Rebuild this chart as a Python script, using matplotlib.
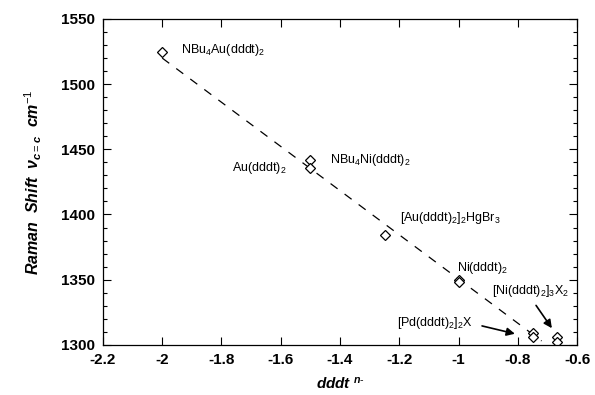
import matplotlib
matplotlib.use("Agg")
import matplotlib.pyplot as plt
from matplotlib.ticker import MultipleLocator

plt.rcParams['font.family'] = ['Liberation Sans', 'DejaVu Sans']
plt.rcParams['mathtext.fontset'] = 'custom'
plt.rcParams['mathtext.rm'] = 'Liberation Sans'
plt.rcParams['mathtext.it'] = 'Liberation Sans:italic:bold'
plt.rcParams['mathtext.bf'] = 'Liberation Sans:bold'

# data
charge = [-2.0, -1.5, -1.5, -1.25, -1.0, -1.0, -0.75, -0.75, -0.667, -0.667]
shift = [1525, 1442, 1436, 1384, 1350, 1348, 1309, 1306, 1306, 1302]

fit_x = [-2.0, -0.72]
fit_y = [1520, 1303]

labels = [r'NBu$_4$Au(dddt)$_2$', r'Au(dddt)$_2$', r'NBu$_4$Ni(dddt)$_2$',
          r'[Au(dddt)$_2$]$_2$HgBr$_3$', r'Ni(dddt)$_2$',
          r'[Ni(dddt)$_2$]$_3$X$_2$', r'[Pd(dddt)$_2$]$_2$X']
label_x = [-1.936, -1.764, -1.433, -1.197, -1.004, -0.886, -1.207]
label_y = [1526, 1436, 1442, 1397, 1359, 1341, 1317]

fig = plt.figure(figsize=(5.95, 3.95), dpi=100)
ax = fig.add_axes([0.173, 0.127, 0.797, 0.825])

ax.plot(fit_x, fit_y, linestyle=(0, (7, 7)), color='black', lw=0.9)
ax.plot(charge, shift, linestyle='none', marker='D', markersize=5.5,
        markerfacecolor='white', markeredgecolor='black', markeredgewidth=0.9)

for i in range(len(labels)):
    ax.text(label_x[i], label_y[i], labels[i], fontsize=9, va='center', ha='left')

# arrows for the two crowded points
ax.annotate('', xy=(-0.801, 1308), xytext=(-0.93, 1315),
            arrowprops=dict(arrowstyle='-|>', color='black', lw=1.2, mutation_scale=12))
ax.annotate('', xy=(-0.680, 1311), xytext=(-0.744, 1332),
            arrowprops=dict(arrowstyle='-|>', color='black', lw=1.2, mutation_scale=12))

ax.set_xlim(-2.2, -0.6)
ax.set_ylim(1300, 1550)
ax.yaxis.set_major_locator(MultipleLocator(50))
ax.yaxis.set_minor_locator(MultipleLocator(10))
ax.tick_params(which='both', direction='in', top=True, right=True, width=0.8)
ax.tick_params(which='major', length=6, labelsize=11, pad=6)
ax.tick_params(which='minor', length=3)
ax.set_xticks([-2.2, -2.0, -1.8, -1.6, -1.4, -1.2, -1.0, -0.8, -0.6])
ax.set_xticklabels(['-2.2', '-2', '-1.8', '-1.6', '-1.4', '-1.2', '-1', '-0.8', '-0.6'])
for t in ax.get_xticklabels() + ax.get_yticklabels():
    t.set_fontweight('bold')
for s in ax.spines.values():
    s.set_linewidth(0.9)

ax.set_xlabel(r'dddt $^{n\text{-}}$', fontsize=11, fontweight='bold', style='italic',
              labelpad=6)
ax.set_ylabel('Raman  Shift  \u03bd$_{c=c}$  cm$^{-1}$', fontsize=11.5,
              fontweight='bold', style='italic', labelpad=12)

fig.savefig('out.png', dpi=100)
